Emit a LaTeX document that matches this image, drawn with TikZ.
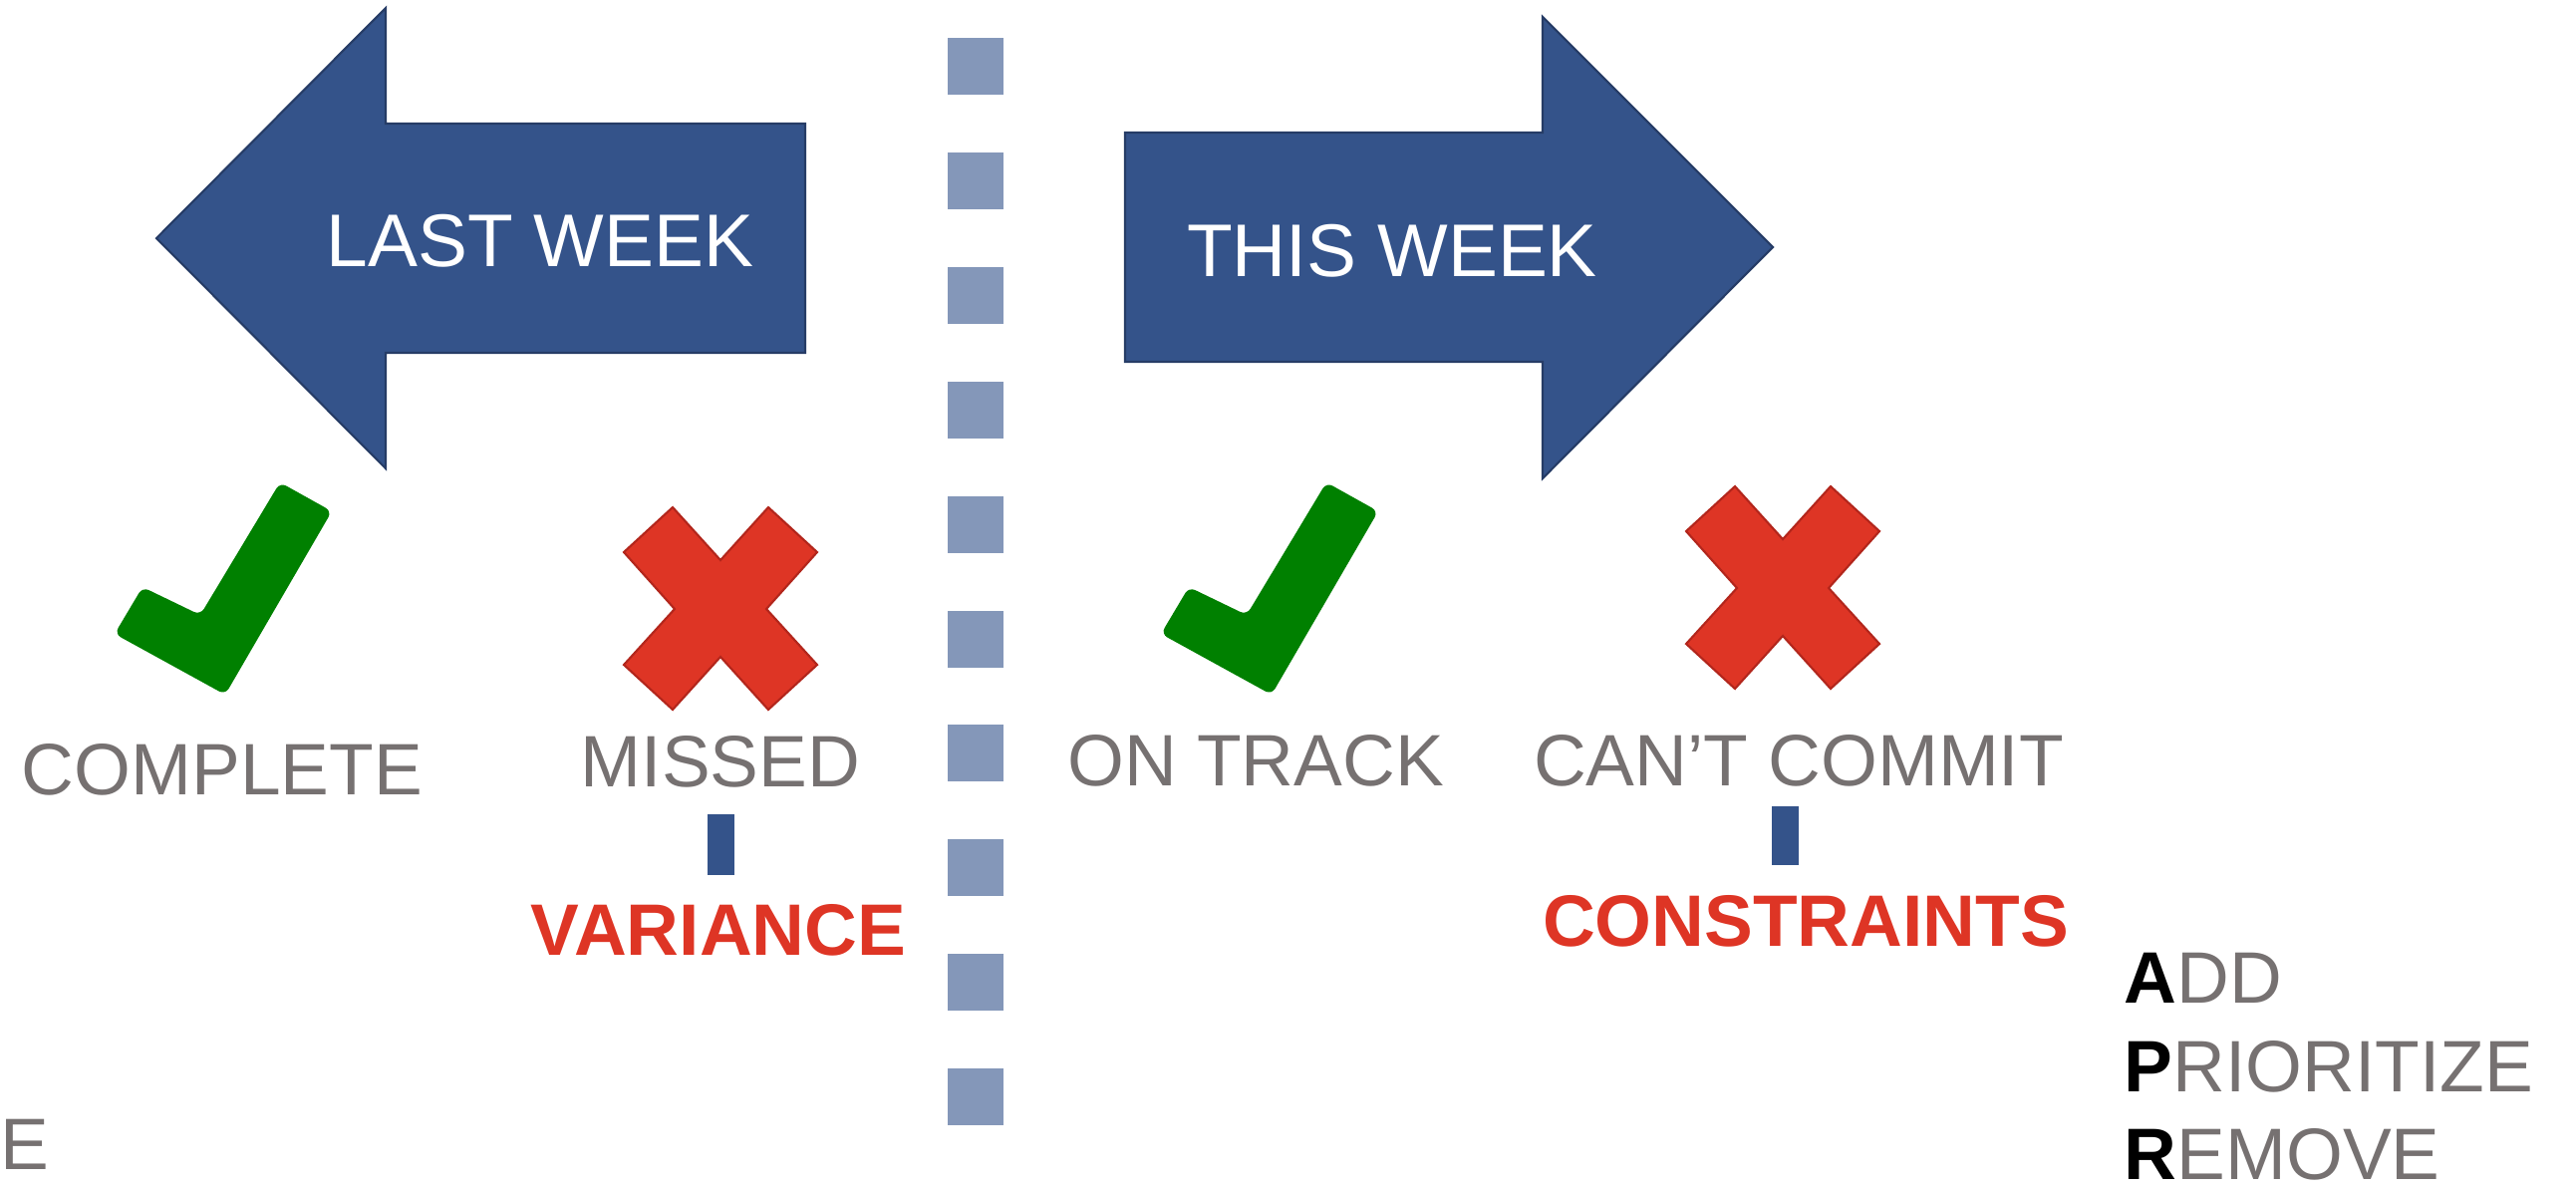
\documentclass[tikz,border=0pt]{standalone}
\usepackage{fontspec}
\setmainfont{Liberation Sans}
\definecolor{arrowblue}{RGB}{52,83,138}
\definecolor{arrowedge}{RGB}{38,60,102}
\definecolor{dashblue}{RGB}{132,151,185}
\definecolor{tickgreen}{RGB}{0,128,0}
\definecolor{crossred}{RGB}{222,53,37}
\definecolor{crossedge}{RGB}{178,38,28}
\definecolor{labelgray}{RGB}{118,113,113}

\begin{document}
\begin{tikzpicture}[x=0.1mm, y=-0.1mm]
    \tikzstyle{week} = [fill=arrowblue, draw=arrowedge, line width=0.6pt]
    \tikzstyle{weektext} = [text=white, anchor=base, inner sep=0, font=\fontsize{21.3}{24}\selectfont]
    \tikzstyle{status} = [text=labelgray, anchor=base, inner sep=0, font=\fontsize{20.8}{24}\selectfont]
    \tikzstyle{cause} = [text=crossred, anchor=base, inner sep=0, font=\bfseries\fontsize{20.8}{24}\selectfont]
    \tikzstyle{tick} = [fill=tickgreen, rounded corners=2pt]
    \tikzstyle{cross} = [fill=crossred, draw=crossedge, line width=0.6pt]
    \tikzstyle{seg} = [fill=dashblue]
    \tikzstyle{link} = [draw=arrowblue, line width=2.7mm]

    \useasboundingbox (0,0) rectangle (2585,1193);

    % week arrows
    \draw [week] (157,239) -- (387,8) -- (387,124) -- (808,124) -- (808,354) -- (387,354) -- (387,470) -- cycle;
    \draw [week] (1779,248) -- (1548,17) -- (1548,133) -- (1129,133) -- (1129,363) -- (1548,363) -- (1548,480) -- cycle;
    \node [weektext] (lastweek) at (542,267) {LAST WEEK};
    \node [weektext] (thisweek) at (1397,277) {THIS WEEK};

    % divider
    \foreach \i in {0,...,9}
        \fill [seg] (951,{38+\i*114.9}) rectangle (1007,{95+\i*114.9});

    % ticks and crosses
    \foreach \dx in {0,1050}
        \fill [tick, shift={(\dx,0)}] (143,589) -- (201,617) -- (281,484) -- (333,513) -- (226,697) -- (115,636) -- cycle;
    \foreach \cx/\cy in {723/611,1789/590}
        \draw [cross, shift={(\cx,\cy)}] (-48,-102) -- (0,-49) -- (48,-102) -- (97,-57) -- (46,0) -- (97,56) -- (48,101) -- (0,48) -- (-48,101) -- (-97,56) -- (-46,0) -- (-97,-57) -- cycle;

    % labels
    \node [status] (complete) at (223,797) {COMPLETE};
    \node [status] (missed) at (723,789) {MISSED};
    \node [status] (ontrack) at (1260,788) {ON TRACK};
    \node [status] (cantcommit) at (1805,788) {CAN’T COMMIT};
    \node [cause] (variance) at (721,958) {VARIANCE};
    \node [cause] (constraints) at (1812,949) {CONSTRAINTS};

    \draw [link, shorten <=2.7mm, shorten >=2.8mm] (missed.south) -- (missed.south |- variance.north);
    \draw [link, shorten <=2mm, shorten >=2.9mm] ([xshift=-1.4mm]cantcommit.south) -- ([xshift=-1.4mm]cantcommit.south |- constraints.north);

    % A-P-R
    \node [status, anchor=base west] (add) at (2131,1006) {\textcolor{black}{\textbf{A}}DD};
    \node [status, anchor=base west] (prioritize) at (2131,1095) {\textcolor{black}{\textbf{P}}RIORITIZE};
    \node [status, anchor=base west] (remove) at (2131,1183) {\textcolor{black}{\textbf{R}}EMOVE};

    \node [status, anchor=base west] (cutoff) at (0,1173) {E};
\end{tikzpicture}
\end{document}
